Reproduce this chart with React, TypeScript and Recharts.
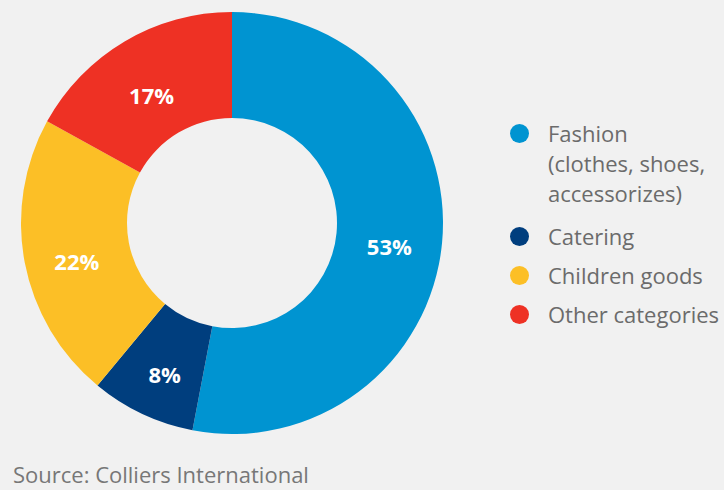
import React from "react";
import { PieChart, Pie, Cell, Legend } from "recharts";

const categories = ["Fashion", "Catering", "Children goods", "Other categories"];
const legendLines = [
  ["Fashion", "(clothes, shoes,", "accessorizes)"],
  ["Catering"],
  ["Children goods"],
  ["Other categories"],
];
const shares = [53, 8, 22, 17];
const colors = ["#0094d1", "#003e7e", "#fcbf26", "#ee3124"];

const data = categories.map((name, i) => ({ name, value: shares[i] }));

const RAD = Math.PI / 180;

function renderLabel(props: any) {
  const { cx, cy, midAngle, value } = props;
  const r = 158;
  const x = cx + r * Math.cos(-midAngle * RAD);
  const y = cy + r * Math.sin(-midAngle * RAD) + 8;
  return (
    <text
      x={x}
      y={y}
      fill="#ffffff"
      textAnchor="middle"
      dominantBaseline="central"
      fontFamily="'Open Sans', sans-serif"
      fontWeight={700}
      fontSize={22}
    >
      {value}%
    </text>
  );
}

function LegendBox() {
  return (
    <div style={{ fontFamily: "'Open Sans', sans-serif", fontSize: 22, color: "#6b6b6b" }}>
      {legendLines.map((lines, i) => (
        <div
          key={i}
          style={{ display: "flex", alignItems: "flex-start", marginBottom: i === 0 ? 13 : 9 }}
        >
          <span
            style={{
              width: 19,
              height: 19,
              borderRadius: "50%",
              background: colors[i],
              marginTop: 6,
              marginRight: 19,
              flex: "none",
            }}
          />
          <div style={{ lineHeight: "30px" }}>
            {lines.map((l, j) => (
              <div key={j} style={{ whiteSpace: "nowrap" }}>{l}</div>
            ))}
          </div>
        </div>
      ))}
    </div>
  );
}

export default function App() {
  return (
    <div
      style={{
        position: "absolute",
        left: 0,
        top: 0,
        width: 724,
        height: 490,
        background: "#f1f1f1",
        overflow: "hidden",
      }}
    >
      <PieChart width={724} height={490} margin={{ top: 0, right: 0, bottom: 0, left: 0 }}>
        <Pie
          data={data}
          dataKey="value"
          nameKey="name"
          cx={232}
          cy={223}
          innerRadius={105}
          outerRadius={211}
          startAngle={90}
          endAngle={-270}
          stroke="none"
          label={renderLabel}
          labelLine={false}
          isAnimationActive={false}
        >
          {data.map((d, i) => (
            <Cell key={d.name} fill={colors[i]} />
          ))}
        </Pie>
        <Legend
          content={() => <LegendBox />}
          layout="vertical"
          wrapperStyle={{ position: "absolute", left: 510, top: 118, width: 214 }}
        />
      </PieChart>
      <div
        style={{
          position: "absolute",
          left: 13,
          top: 459,
          fontFamily: "'Open Sans', sans-serif",
          fontSize: 22,
          color: "#777777",
          whiteSpace: "nowrap",
        }}
      >
        Source: Colliers International
      </div>
    </div>
  );
}
